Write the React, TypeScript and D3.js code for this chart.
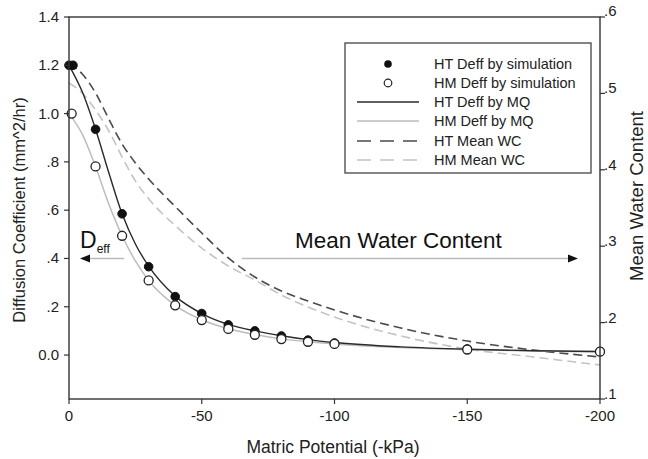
import React from "react";
import * as d3 from "d3";

// ---- data ----
const simHT_x = [0, -1.5, -10, -20, -30, -40, -50, -60, -70, -80, -90, -100, -150, -200];
const simHT_y = [1.2, 1.2, 0.935, 0.585, 0.366, 0.242, 0.172, 0.125, 0.1, 0.079, 0.062, 0.05, 0.025, 0.015];
const simHM_x = [-1, -10, -20, -30, -40, -50, -60, -70, -80, -90, -100, -150, -200];
const simHM_y = [1.0, 0.781, 0.494, 0.309, 0.206, 0.145, 0.108, 0.084, 0.066, 0.055, 0.046, 0.023, 0.014];

const curveX = [0, -5, -10, -15, -20, -25, -30, -40, -50, -60, -70, -80, -90, -100, -125, -150, -175, -200];
const mqHT = [1.2, 1.09, 0.935, 0.755, 0.585, 0.46, 0.368, 0.244, 0.172, 0.127, 0.1, 0.08, 0.064, 0.052, 0.034, 0.024, 0.018, 0.015];
const mqHM = [1.0, 0.915, 0.781, 0.625, 0.494, 0.39, 0.309, 0.206, 0.146, 0.109, 0.085, 0.067, 0.055, 0.046, 0.031, 0.023, 0.017, 0.013];
const wcHT = [0.5385, 0.5254, 0.5005, 0.4665, 0.4338, 0.409, 0.388, 0.352, 0.3173, 0.2846, 0.2597, 0.2414, 0.2283, 0.2165, 0.1929, 0.1759, 0.1641, 0.155];
const wcHM = [0.5136, 0.5005, 0.4783, 0.4508, 0.4168, 0.3855, 0.362, 0.327, 0.2976, 0.2741, 0.2558, 0.2361, 0.2204, 0.2073, 0.1825, 0.1654, 0.155, 0.1445];

const xTicks = [0, -50, -100, -150, -200];
const yTicks = [0, 0.2, 0.4, 0.6, 0.8, 1.0, 1.2, 1.4];
const yTickLabels = ["0.0", ".2", ".4", ".6", ".8", "1.0", "1.2", "1.4"];
const y2Ticks = [0.1, 0.2, 0.3, 0.4, 0.5, 0.6];
const y2TickLabels = [".1", ".2", ".3", ".4", ".5", ".6"];

const legendLabels = [
  "HT Deff by simulation",
  "HM Deff by simulation",
  "HT Deff by MQ",
  "HM Deff by MQ",
  "HT Mean WC",
  "HM Mean WC",
];

const FONT = "'Liberation Sans', Arial, Helvetica, sans-serif";

export default function App() {
  const W = 648, H = 459;
  const L = 69, R = 600, T = 17, B = 399;
  const x = d3.scaleLinear().domain([0, -200]).range([L, R]);
  const y = d3.scaleLinear().domain([-0.182, 1.4]).range([B, T]);
  const y2 = d3.scaleLinear().domain([0.1, 0.6]).range([B, T]);

  const line1 = d3.line<number>().x((_, i) => x(curveX[i])).y((d) => y(d)).curve(d3.curveMonotoneX);
  const line2 = d3.line<number>().x((_, i) => x(curveX[i])).y((d) => y2(d)).curve(d3.curveMonotoneX);

  const dark = "#2a2a2a";
  const light = "#bdbdbd";
  const dashDark = "#4a4a4a";
  const dashLight = "#c4c4c4";

  const lgX = 345, lgY = 43, lgW = 246, lgH = 130;
  const rowY = [64, 83, 102, 121, 141, 160];
  const ya = y(0.4);

  return (
    <svg width={W} height={H} style={{ position: "absolute", left: 0, top: 0, background: "#fff" }} fontFamily={FONT}>
      <rect x={0} y={0} width={W} height={H} fill="#fff" />
      {/* curves */}
      <path d={line2(wcHM) || ""} fill="none" stroke={dashLight} strokeWidth={1.6} strokeDasharray="9,5" />
      <path d={line2(wcHT) || ""} fill="none" stroke={dashDark} strokeWidth={1.6} strokeDasharray="9,5" />
      <path d={line1(mqHM) || ""} fill="none" stroke={light} strokeWidth={1.5} />
      <path d={line1(mqHT) || ""} fill="none" stroke={dark} strokeWidth={1.4} />

      {/* markers */}
      {simHT_x.map((v, i) => (
        <circle key={"ht" + i} cx={x(v)} cy={y(simHT_y[i])} r={4.3} fill="#111" stroke="#111" strokeWidth={1} />
      ))}
      {simHM_x.map((v, i) => (
        <circle key={"hm" + i} cx={x(v)} cy={y(simHM_y[i])} r={4.5} fill="#fff" stroke="#222" strokeWidth={1.3} />
      ))}

      {/* frame */}
      <rect x={L} y={T} width={R - L} height={B - T} fill="none" stroke="#333" strokeWidth={1.4} />

      {/* x axis */}
      {xTicks.map((t) => (
        <g key={"xt" + t}>
          <line x1={x(t)} x2={x(t)} y1={B} y2={B + 5} stroke="#333" strokeWidth={1.2} />
          <text x={x(t)} y={421} textAnchor="middle" fontSize={15} fill="#222">{t}</text>
        </g>
      ))}
      {/* left y axis */}
      {yTicks.map((t, i) => (
        <g key={"yt" + t}>
          <line x1={L - 5} x2={L} y1={y(t)} y2={y(t)} stroke="#333" strokeWidth={1.2} />
          <text x={59} y={y(t) + 5} textAnchor="end" fontSize={15} fill="#222">{yTickLabels[i]}</text>
        </g>
      ))}
      {/* right y axis */}
      {y2Ticks.map((t, i) => (
        <g key={"y2t" + t}>
          <line x1={R} x2={R + 5} y1={y2(t)} y2={y2(t)} stroke="#333" strokeWidth={1.2} />
          <text x={R + 4} y={y2(t) + (t === 0.6 ? -1 : 0)} textAnchor="start" fontSize={15} fill="#222">{y2TickLabels[i]}</text>
        </g>
      ))}

      {/* axis titles */}
      <text x={333} y={453} textAnchor="middle" fontSize={17.5} fill="#222">Matric Potential (-kPa)</text>
      <text transform={`translate(25,210) rotate(-90)`} textAnchor="middle" fontSize={16.5} fill="#222">Diffusion Coefficient (mm^2/hr)</text>
      <text transform={`translate(643,196) rotate(-90)`} textAnchor="middle" fontSize={18.5} fill="#222">Mean Water Content</text>

      {/* annotations */}
      <text x={80} y={248} fontSize={23} fill="#111">D<tspan fontSize={12} dy={5}>eff</tspan></text>
      <line x1={88} x2={124} y1={ya} y2={ya} stroke="#bbb" strokeWidth={1.5} />
      <path d={`M80,${ya} L90,${ya - 4} L90,${ya + 4} Z`} fill="#111" />
      <text x={295} y={248} fontSize={22.5} fill="#111">Mean Water Content</text>
      <line x1={242} x2={570} y1={ya} y2={ya} stroke="#bbb" strokeWidth={1.5} />
      <path d={`M578,${ya} L568,${ya - 4} L568,${ya + 4} Z`} fill="#111" />

      {/* legend */}
      <rect x={lgX} y={lgY} width={lgW} height={lgH} fill="#fff" stroke="#444" strokeWidth={1.3} />
      <circle cx={388} cy={rowY[0]} r={3.8} fill="#111" />
      <circle cx={388} cy={rowY[1]} r={3.8} fill="#fff" stroke="#222" strokeWidth={1.2} />
      <line x1={357} x2={419} y1={rowY[2]} y2={rowY[2]} stroke={dark} strokeWidth={1.4} />
      <line x1={357} x2={419} y1={rowY[3]} y2={rowY[3]} stroke={light} strokeWidth={1.3} />
      <line x1={357} x2={419} y1={rowY[4]} y2={rowY[4]} stroke={dashDark} strokeWidth={1.5} strokeDasharray="14,9" />
      <line x1={357} x2={419} y1={rowY[5]} y2={rowY[5]} stroke={dashLight} strokeWidth={1.5} strokeDasharray="14,9" />
      {legendLabels.map((s, i) => (
        <text key={s} x={434} y={rowY[i] + 5} fontSize={14.5} fill="#222">{s}</text>
      ))}
    </svg>
  );
}
